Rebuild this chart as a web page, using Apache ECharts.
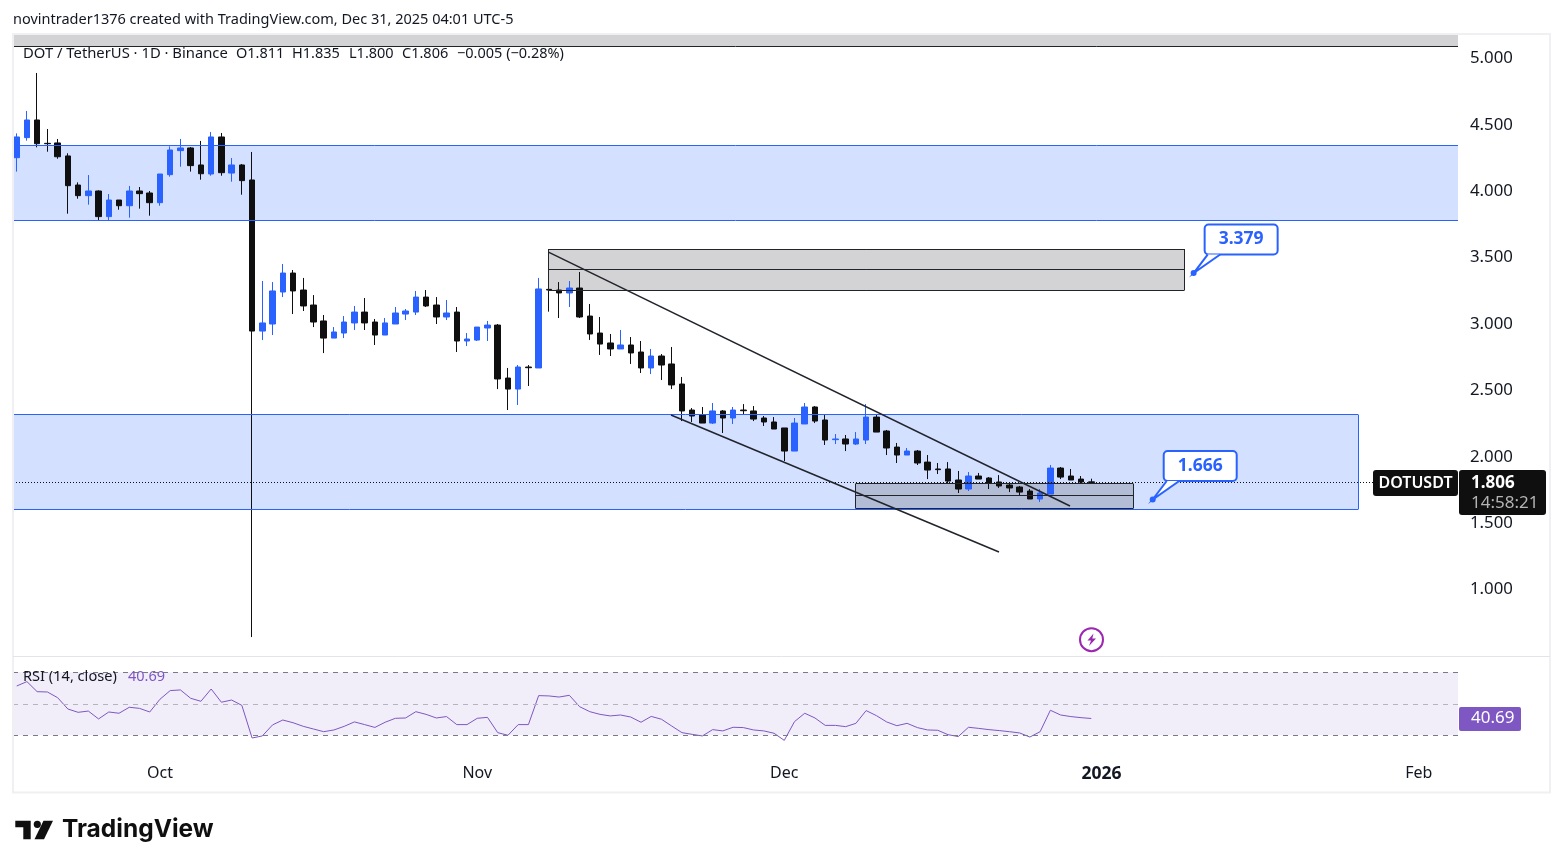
<!DOCTYPE html>
<html>
<head>
<meta charset="utf-8">
<style>
  html, body { margin: 0; padding: 0; background: #fff; }
  #main { width: 1563px; height: 868px; }
</style>
<script src="https://cdn.jsdelivr.net/npm/echarts@6/dist/echarts.min.js"></script>
</head>
<body>
<div id="main"></div>
<script>
// candles, oldest first, one per day from 17 Sep 2025 (bar 0)
const opens = [4.253,4.404,4.537,4.361,4.364,4.266,4.047,3.967,4.002,3.809,3.934,3.891,4.002,3.987,3.914,4.125,4.306,4.326,4.198,4.130,4.409,4.137,4.198,4.085,
  2.947,3.000,3.241,3.384,3.256,3.143,3.023,2.894,2.932,3.008,3.090,3.015,2.917,3.000,3.075,3.090,3.203,3.143,3.053,3.090,2.872,2.879,2.970,2.992,2.593,2.510,2.676,
  2.669,3.261,3.256,3.234,3.271,3.060,2.932,2.857,2.812,2.842,2.789,2.669,2.759,2.699,2.548,2.352,2.315,2.254,2.345,2.292,2.352,2.345,2.292,2.262,
  2.217,2.043,2.247,2.375,2.277,2.129,2.134,2.096,2.126,2.299,2.194,2.073,2.013,2.043,1.960,1.908,1.908,1.825,1.757,1.855,1.840,1.810,1.787,1.772,1.742,1.682,1.719,1.915,1.855,1.832,1.811];
const closes = [4.409,4.537,4.358,4.358,4.260,4.042,3.967,4.002,3.809,3.934,3.891,4.002,3.982,3.914,4.130,4.311,4.326,4.193,4.132,4.409,4.140,4.198,4.080,2.947,
  3.008,3.249,3.384,3.249,3.136,3.015,2.894,2.940,3.015,3.090,3.008,2.917,3.008,3.083,3.098,3.203,3.136,3.053,3.083,2.872,2.887,2.977,2.992,2.586,2.510,2.676,2.671,
  3.264,3.256,3.234,3.271,3.053,2.925,2.849,2.812,2.842,2.782,2.669,2.759,2.691,2.541,2.345,2.307,2.254,2.345,2.292,2.352,2.347,2.284,2.262,2.209,
  2.043,2.254,2.375,2.269,2.126,2.134,2.096,2.134,2.299,2.186,2.066,2.013,2.043,1.953,1.900,1.903,1.817,1.757,1.855,1.832,1.802,1.780,1.765,1.734,1.682,1.727,1.915,1.847,1.825,1.810,1.806];
const lows = [4.148,4.381,4.331,4.298,4.245,3.831,3.944,3.899,3.778,3.783,3.861,3.801,3.869,3.816,3.891,4.110,4.185,4.148,4.087,4.117,4.117,4.072,3.974,0.642,
  2.879,2.917,3.203,3.075,3.098,2.977,2.781,2.894,2.894,2.955,2.955,2.842,2.917,3.000,3.030,3.068,3.128,3.000,3.030,2.789,2.834,2.872,2.872,2.510,2.352,2.390,2.533,
  2.669,3.093,3.045,3.128,3.045,2.880,2.767,2.759,2.812,2.699,2.631,2.623,2.578,2.510,2.269,2.262,2.254,2.247,2.179,2.247,2.315,2.269,2.232,2.209,
  1.968,2.043,2.247,2.254,2.089,2.096,2.043,2.089,2.096,2.186,2.013,1.953,2.013,1.938,1.832,1.870,1.795,1.727,1.742,1.832,1.757,1.765,1.734,1.707,1.682,1.659,1.719,1.832,1.825,1.802,1.800];
const highs = [4.436,4.605,4.891,4.469,4.394,4.286,4.067,4.122,4.007,3.979,3.934,4.040,4.032,4.002,4.130,4.338,4.394,4.333,4.379,4.446,4.439,4.250,4.205,4.296,
  3.324,3.316,3.452,3.407,3.347,3.218,3.068,2.977,3.060,3.136,3.196,3.038,3.045,3.128,3.113,3.249,3.256,3.203,3.181,3.128,2.932,2.977,3.023,3.000,2.669,2.691,2.691,
  3.347,3.265,3.316,3.324,3.392,3.151,3.053,2.925,2.955,2.902,2.872,2.812,2.774,2.827,2.601,2.367,2.375,2.405,2.352,2.375,2.397,2.382,2.307,2.299,
  2.217,2.292,2.405,2.382,2.315,2.171,2.164,2.186,2.397,2.322,2.202,2.104,2.066,2.051,2.013,1.953,1.960,1.893,1.885,1.878,1.847,1.862,1.802,1.780,1.757,1.757,1.938,1.923,1.908,1.855,1.835];
const rsi = [61.3,64.1,57.7,57.5,53.9,46.7,44.6,45.4,40.4,44.8,44,47.8,47.1,44.8,52.9,58.4,58.8,53.5,51.6,59.4,51,52.4,49,28.3,29.6,36.6,39.7,38,35.7,34,32.3,33.4,35.7,38.5,36.8,35,38.3,40.8,41,45,43.3,41,41.9,36.8,36.8,40.8,41.4,31.7,30,36.8,36.8,55.2,55,
  54.3,55.4,48.2,45,43.3,42.3,42.9,41.6,38.3,42,40.2,35.9,31.7,30.6,29.6,33.6,32.8,35.1,34.9,33.4,32.8,31.3,26.8,38.7,44,41,36.3,36.3,35.5,37.6,45.7,42.5,38.5,36.1,37.6,34.9,33.4,33.2,30.4,29.2,35.1,34.4,33.6,33,32.3,31.5,28.9,32.3,45.9,42.9,41.9,41.2,40.69];

// drawings, in bar numbers and prices
const blueZones = [[-0.3615, 140.83, 3.783, 4.345], [-0.3615, 131.06, 1.603, 2.318]];
const greyZones = [[51.93, 114.06, 3.252, 3.565, 3.411], [81.98, 109.08, 1.610, 1.798, 1.708]];
const trendLines = [[51.96, 3.542, 102.92, 1.629], [63.93, 2.315, 95.98, 1.283]];
const callouts = [{ bar: 115, price: 3.384, text: '3.379' }, { bar: 111, price: 1.678, text: '1.666' }];
const lastPrice = 1.806;
const topBandPrice = 5.094;

const priceTicks = [1, 1.5, 2, 2.5, 3, 3.5, 4, 4.5, 5];
const timeTickBars = [14, 45, 75, 106, 137];
const timeTickLabels = ['Oct', 'Nov', 'Dec', '{b|2026}', 'Feb'];

const FONT = '"Noto Sans", sans-serif';
const BLUE = '#2962FF';
const INK = '#131722';
const LINE = '#22242c';
const xMin = -0.3615;
const xMax = 140.83;
const yMax = 5.1846;

const candles = opens.map((o, i) => [i, o, closes[i], lows[i], highs[i]]);

function segment(x0, y0, x1, y1, style) {
  return [{ coord: [x0, y0], lineStyle: style }, { coord: [x1, y1] }];
}

const areas = [];
const lines = [];
blueZones.forEach(([a, b, lo, hi]) => {
  areas.push([{ coord: [a, hi], itemStyle: { color: 'rgba(41,98,255,0.2)' } }, { coord: [b, lo] }]);
  const s = { color: BLUE, width: 1, type: 'solid' };
  lines.push(segment(a, hi, b, hi, s), segment(a, lo, b, lo, s));
  if (b < 140) lines.push(segment(b, lo, b, hi, s));
});
greyZones.forEach(([a, b, lo, hi, mid]) => {
  areas.push([{ coord: [a, hi], itemStyle: { color: 'rgba(80,80,86,0.25)' } }, { coord: [b, lo] }]);
  const s = { color: LINE, width: 1, type: 'solid' };
  lines.push(segment(a, hi, b, hi, s), segment(a, lo, b, lo, s), segment(a, mid, b, mid, s));
  lines.push(segment(a, lo, a, hi, s), segment(b, lo, b, hi, s));
});
areas.push([{ coord: [xMin, yMax], itemStyle: { color: '#d3d3d5' } }, { coord: [xMax, topBandPrice] }]);
lines.push(segment(xMin, topBandPrice, xMax, topBandPrice, { color: LINE, width: 1, type: 'solid' }));
trendLines.forEach(([x0, y0, x1, y1]) => lines.push(segment(x0, y0, x1, y1, { color: LINE, width: 1.5, type: 'solid' })));
lines.push(segment(xMin, lastPrice, xMax, lastPrice, { color: '#0f0f0f', width: 1, type: [1, 2] }));

const chart = echarts.init(document.getElementById('main'), null, { renderer: 'canvas' });
chart.setOption({
  animation: false,
  backgroundColor: '#fff',
  textStyle: { fontFamily: FONT },
  grid: [
    { left: 13, width: 1445, top: 34, height: 621.9 },
    { left: 13, width: 1445, top: 656, height: 99 }
  ],
  xAxis: [
    { type: 'value', gridIndex: 0, min: xMin, max: xMax, show: false },
    {
      type: 'value', gridIndex: 1, min: xMin, max: xMax,
      axisLine: { show: false }, axisTick: { show: false }, splitLine: { show: false },
      axisLabel: {
        margin: 10, color: INK, fontSize: 16, fontFamily: FONT,
        customValues: timeTickBars,
        formatter: (v) => timeTickLabels[timeTickBars.indexOf(v)],
        rich: { b: { fontWeight: 'bold', fontSize: 17.5, color: INK, fontFamily: FONT } }
      }
    }
  ],
  yAxis: [
    {
      type: 'value', gridIndex: 0, position: 'right', min: 0.5, max: yMax,
      axisLine: { show: false }, axisTick: { show: false }, splitLine: { show: false },
      axisLabel: {
        margin: 12, color: INK, fontSize: 16.8, fontFamily: FONT, padding: [0, 0, 3, 0],
        customValues: priceTicks,
        formatter: (v) => v.toFixed(3)
      }
    },
    { type: 'value', gridIndex: 1, min: 17.5, max: 80.35, show: false }
  ],
  series: [
    {
      name: 'DOTUSDT', type: 'candlestick', xAxisIndex: 0, yAxisIndex: 0,
      data: candles, barWidth: 6,
      itemStyle: { color: BLUE, color0: '#0f0f0f', borderColor: BLUE, borderColor0: '#0f0f0f', borderWidth: 1 },
      markArea: { silent: true, data: areas, label: { show: false } },
      markLine: { silent: true, symbol: 'none', label: { show: false }, emphasis: { disabled: true }, data: lines }
    },
    {
      name: 'anchors', type: 'scatter', xAxisIndex: 0, yAxisIndex: 0, symbolSize: 6, z: 120,
      itemStyle: { color: BLUE, opacity: 1 },
      data: callouts.map((c) => [c.bar, c.price])
    },
    {
      name: 'RSI', type: 'line', xAxisIndex: 1, yAxisIndex: 1, showSymbol: false,
      lineStyle: { color: '#7E57C2', width: 1 },
      data: rsi.map((v, i) => [i, v]),
      markArea: {
        silent: true,
        itemStyle: { color: 'rgba(126,87,194,0.1)' },
        data: [[{ coord: [xMin, 70] }, { coord: [xMax, 30] }]]
      },
      markLine: {
        silent: true, symbol: 'none', label: { show: false },
        data: [
          { yAxis: 70, lineStyle: { color: '#787B86', type: [5, 5], width: 1 } },
          { yAxis: 50, lineStyle: { color: '#b5b3bd', type: [5, 5], width: 1 } },
          { yAxis: 30, lineStyle: { color: '#787B86', type: [5, 5], width: 1 } }
        ]
      }
    }
  ]
});

function text(x, y, str, size, color, extra) {
  return {
    type: 'text', x, y, z: 100, silent: true,
    style: Object.assign({ text: str, fill: color, font: `${size}px ${FONT}`, verticalAlign: 'middle' }, extra || {})
  };
}
function box(x, y, w, h, fill, r) {
  return { type: 'rect', z: 90, silent: true, shape: { x, y, width: w, height: h, r: r || 0 }, style: { fill } };
}

const elements = [
  // outer frame and pane separator
  { type: 'rect', z: 80, silent: true, shape: { x: 13, y: 34, width: 1537, height: 758.5 }, style: { fill: 'none', stroke: '#f0f0f2', lineWidth: 2 } },
  { type: 'line', z: 80, silent: true, shape: { x1: 13, y1: 656.5, x2: 1550, y2: 656.5 }, style: { stroke: '#e3e3ea', lineWidth: 1 } },
  text(13, 19.5, 'novintrader1376 created with TradingView.com, Dec 31, 2025 04:01 UTC-5', 14.5, INK),
  text(23, 54, 'DOT / TetherUS · 1D · Binance', 14.8, INK),
  text(236, 54, 'O1.811', 14.5, INK),
  text(292, 54, 'H1.835', 14.5, INK),
  text(349, 54, 'L1.800', 14.5, INK),
  text(402, 54, 'C1.806', 14.5, INK),
  text(457, 54, '−0.005 (−0.28%)', 14.5, INK),
  text(23, 677, 'RSI (14, close)', 14.6, INK),
  text(128, 677, '40.69', 14.5, '#7E57C2'),
  // last price tags
  box(1373, 470, 85, 26, '#0f0f0f', 3),
  text(1415.5, 483, 'DOTUSDT', 16, '#fff', { align: 'center', font: `600 16px ${FONT}` }),
  box(1459, 470, 87, 45, '#0f0f0f', 3),
  text(1471, 483, '1.806', 17, '#fff', { font: `bold 17px ${FONT}` }),
  text(1471, 503, '14:58:21', 17, '#b4b4b4'),
  box(1459, 707, 62, 24, '#7E57C2', 2),
  text(1471, 718.5, '40.69', 17, '#fff'),
  // logo
  { type: 'polygon', z: 100, silent: true, shape: { points: [[15.3, 820.7], [30.7, 820.7], [30.7, 839.3], [23.3, 839.3], [23.3, 827.3], [15.3, 827.3]] }, style: { fill: '#0f0f0f' } },
  { type: 'circle', z: 100, silent: true, shape: { cx: 37.3, cy: 824.3, r: 3.6 }, style: { fill: '#0f0f0f' } },
  { type: 'polygon', z: 100, silent: true, shape: { points: [[43.5, 820.7], [53, 820.7], [44, 839.3], [34.5, 839.3]] }, style: { fill: '#0f0f0f' } },
  text(62, 830, 'TradingView', 25, '#0f0f0f', { font: `bold 24.5px Inter, ${FONT}` }),
  // earnings style marker
  { type: 'circle', z: 100, silent: true, shape: { cx: 1091.5, cy: 639.7, r: 11.5 }, style: { fill: '#fff', stroke: '#9C27B0', lineWidth: 2 } },
  { type: 'polygon', z: 101, silent: true, shape: { points: [[1093.5, 633.5], [1087.5, 640.5], [1091, 640.5], [1089, 646], [1096, 638.5], [1092.3, 638.5]] }, style: { fill: '#9C27B0' } }
];

// callout boxes hang off the anchor points, which come from the chart's own scales
callouts.forEach((c) => {
  const [ax, ay] = chart.convertToPixel({ gridIndex: 0 }, [c.bar, c.price]);
  const bx = ax + 11, by = ay - 48.5;
  elements.push(
    { type: 'rect', z: 95, silent: true, shape: { x: bx, y: by, width: 73, height: 30, r: 4 }, style: { fill: '#fff', stroke: BLUE, lineWidth: 2 } },
    { type: 'polygon', z: 96, silent: true, shape: { points: [[ax, ay], [bx + 3, by + 30], [bx + 15.5, by + 30]] }, style: { fill: '#fff' } },
    { type: 'polyline', z: 97, silent: true, shape: { points: [[bx + 3, by + 30], [ax, ay], [bx + 15.5, by + 30]] }, style: { stroke: BLUE, lineWidth: 2, fill: 'none' } },
    text(bx + 36.5, by + 14.5, c.text, 17.5, BLUE, { align: 'center', font: `bold 17.5px ${FONT}` })
  );
});

chart.setOption({ graphic: { elements } });
</script>
</body>
</html>
